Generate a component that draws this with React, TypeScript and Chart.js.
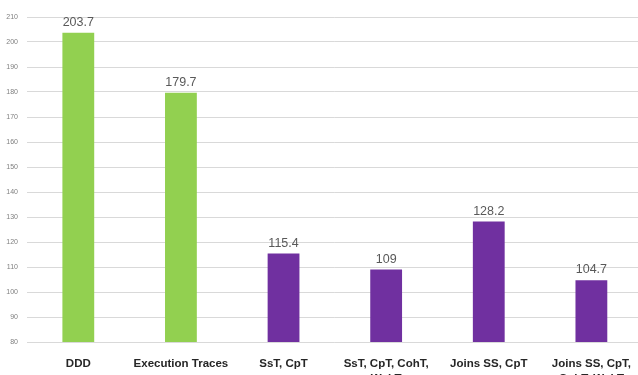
import React, { useEffect, useRef } from "react";
import { Chart, registerables } from "chart.js";

Chart.register(...registerables);

// Categories (two-line labels) and measured values
const categories: string[][] = [
  ["DDD"],
  ["Execution Traces"],
  ["SsT, CpT"],
  ["SsT, CpT, CohT,", "WckT"],
  ["Joins SS, CpT"],
  ["Joins SS, CpT,", "CohT, WckT"],
];
const values: number[] = [203.7, 179.7, 115.4, 109, 128.2, 104.7];
const barColors: string[] = ["#92D050", "#92D050", "#7030A0", "#7030A0", "#7030A0", "#7030A0"];
const valueLabels: string[] = ["203.7", "179.7", "115.4", "109", "128.2", "104.7"];

const yMin = 80;
const yMax = 210;
const yStep = 10;

// Writes each bar's value just above its top
const valueLabelPlugin = {
  id: "valueLabels",
  afterDatasetsDraw(chart: any) {
    const { ctx } = chart;
    const meta = chart.getDatasetMeta(0);
    ctx.save();
    ctx.font = "12.5px 'Liberation Sans', Arial, sans-serif";
    ctx.fillStyle = "#595959";
    ctx.textAlign = "center";
    ctx.textBaseline = "alphabetic";
    meta.data.forEach((bar: any, i: number) => {
      ctx.fillText(valueLabels[i], bar.x, bar.y - 7);
    });
    ctx.restore();
  },
};

export default function App() {
  const canvasRef = useRef<HTMLCanvasElement | null>(null);

  useEffect(() => {
    document.body.style.margin = "0";
    const canvas = canvasRef.current;
    if (!canvas) return;
    const chart = new Chart(canvas, {
      type: "bar",
      data: {
        labels: categories,
        datasets: [
          {
            data: values,
            backgroundColor: barColors,
            borderWidth: 0,
            categoryPercentage: 1,
            barPercentage: 0.31,
          },
        ],
      },
      options: {
        animation: false,
        responsive: false,
        maintainAspectRatio: false,
        layout: { padding: { top: 17, right: 0, bottom: 0, left: 0 } },
        plugins: {
          legend: { display: false },
          tooltip: { enabled: false },
        },
        scales: {
          x: {
            grid: { display: false, drawTicks: false },
            border: { display: false },
            ticks: {
              color: "#262626",
              padding: 14,
              maxRotation: 0,
              autoSkip: false,
              font: { family: "'Liberation Sans', Arial, sans-serif", size: 11.5, weight: "bold", lineHeight: 1.3 },
            },
            afterFit(scale: any) {
              scale.height = 58;
            },
          },
          y: {
            min: yMin,
            max: yMax,
            grid: { color: "#D9D9D9", drawTicks: false, lineWidth: 1 },
            border: { display: false },
            ticks: {
              stepSize: yStep,
              color: "#7F7F7F",
              padding: 9,
              font: { family: "'Liberation Sans', Arial, sans-serif", size: 7 },
            },
            afterFit(scale: any) {
              scale.width = 27;
            },
          },
        },
      },
      plugins: [valueLabelPlugin],
    });
    return () => chart.destroy();
  }, []);

  return (
    <div style={{ position: "relative", width: 638, height: 375, overflow: "hidden", background: "#fff" }}>
      <canvas
        ref={canvasRef}
        width={645}
        height={400}
        style={{ position: "absolute", left: 0, top: 0, width: 645, height: 400 }}
      />
    </div>
  );
}
